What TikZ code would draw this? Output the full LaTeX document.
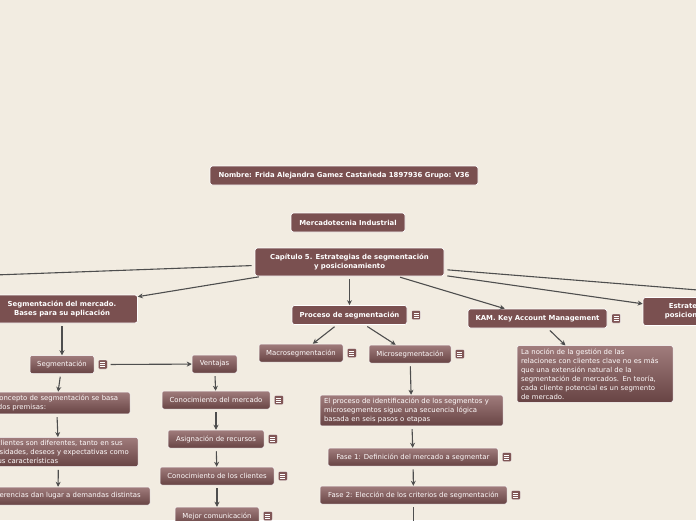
\documentclass[tikz,border=0pt]{standalone}
\usepackage{fontspec}
\setmainfont{DejaVu Sans}
\usetikzlibrary{positioning, arrows.meta}
\definecolor{paper}{RGB}{242,236,225}
\definecolor{topicfill}{RGB}{122,80,80}
\definecolor{subtop}{RGB}{160,124,124}
\definecolor{subbot}{RGB}{104,68,68}
\definecolor{iconfill}{RGB}{128,86,86}
\definecolor{wire}{RGB}{78,78,78}
\tikzset{
    x=1pt, y=-1pt, % one unit is one pixel of the map, y runs downwards
    topic/.style={draw=white, line width=0.7pt, fill=topicfill, rounded corners=2.5pt, text=white, align=center, font=\bfseries\fontsize{6.9}{9}\selectfont, minimum height=19pt, inner sep=3pt}, % main branches
    subtopic/.style={draw=white, line width=0.5pt, top color=subtop, bottom color=subbot, rounded corners=2pt, text=white!94!pink, align=left, font=\fontsize{6.9}{9}\selectfont, minimum height=18pt, inner xsep=4pt, inner ysep=3pt}, % smaller ideas
    noteicon/.style={draw=white, line width=0.4pt, fill=iconfill, rounded corners=1pt, minimum width=9pt, minimum height=9pt, inner sep=0pt,
        path picture={\foreach \h in {-2,0,2} \draw[white, line width=0.6pt] ([xshift=-2.5pt, yshift=\h pt]path picture bounding box.center) -- ++(5pt,0pt);}}, % the little note sign
    link/.style={draw=wire, line width=1.1pt, -{Stealth[length=5pt, width=5pt]}, shorten <=3pt}, % connectors
}
\begin{document}
\begin{tikzpicture}
    \useasboundingbox (0,0) rectangle (696,520);
    \fill[paper] (0,0) rectangle (696,520);
    \clip (0,0) rectangle (696,520);

    % centre of the map
    \node[topic, minimum width=268pt] (student) at (344,175.5) {Nombre: Frida Alejandra Gamez Castañeda 1897936 Grupo: V36};
    \node[topic, minimum width=114pt] (subject) at (348,222.5) {Mercadotecnia Industrial};
    \node[topic, minimum width=189pt, minimum height=28pt] (chapter) at (349.5,262) {Capítulo 5. Estrategias de segmentación\\y posicionamiento};

    % main branches
    \node[topic, minimum width=151pt, minimum height=28pt] (bases) at (62,309) {Segmentación del mercado.\\Bases para su aplicación};
    \node[topic, minimum width=115pt] (process) at (349.5,315) {Proceso de segmentación};
    \node[noteicon, right=4pt of process] (processnote) {};
    \node[topic, minimum width=139pt] (kam) at (537.5,318.5) {KAM. Key Account Management};
    \node[noteicon, right=4pt of kam] (kamicon) {};
    \node[topic, minimum width=108pt, minimum height=28pt] (strategy) at (697,311.5) {Estrategias de\\posicionamiento};
    \coordinate (offleft) at (-60,277);
    \coordinate (offright) at (760,295);

    % segmentacion del mercado
    \node[subtopic, minimum width=64pt] (segm) at (62,364.5) {Segmentación};
    \node[noteicon, right=4pt of segm] (segmnote) {};
    \node[subtopic, text width=139pt] (premise) at (56.5,403) {El concepto de segmentación se basa\\en dos premisas:};
    \node[subtopic, text width=151pt] (diff) at (58.5,452) {Los clientes son diferentes, tanto en sus\\necesidades, deseos y expectativas como\\en sus características};
    \node[subtopic, text width=176pt] (demand) at (58,496) {Estas diferencias dan lugar a demandas distintas};

    % ventajas
    \node[subtopic, minimum width=45pt] (adv) at (214.5,364) {Ventajas};
    \node[subtopic, minimum width=108pt] (know) at (216,400) {Conocimiento del mercado};
    \node[noteicon, right=4pt of know] (knownote) {};
    \node[subtopic, minimum width=96pt] (alloc) at (216,439) {Asignación de recursos};
    \node[noteicon, right=4pt of alloc] (allocnote) {};
    \node[subtopic, minimum width=114pt] (clients) at (217,476) {Conocimiento de los clientes};
    \node[noteicon, right=4pt of clients] (clientsnote) {};
    \node[subtopic, minimum width=84pt] (comm) at (217,516) {Mejor comunicación};
    \node[noteicon, right=4pt of comm] (commnote) {};

    % proceso de segmentacion
    \node[subtopic, minimum width=84pt] (macro) at (301,353) {Macrosegmentación};
    \node[noteicon, right=4pt of macro] (macronote) {};
    \node[subtopic, minimum width=82pt] (micro) at (410,354) {Microsegmentación};
    \node[noteicon, right=4pt of micro] (micronote) {};
    \node[subtopic, text width=175pt] (steps) at (411.5,410.5) {El proceso de identificación de los segmentos y\\microsegmentos sigue una secuencia lógica\\basada en seis pasos o etapas};
    \node[subtopic, minimum width=170pt] (phase1) at (413,457) {Fase 1: Definición del mercado a segmentar};
    \node[noteicon, right=4pt of phase1] (phase1note) {};
    \node[subtopic, minimum width=187pt] (phase2) at (413.5,495) {Fase 2: Elección de los criterios de segmentación};
    \node[noteicon, right=4pt of phase2] (phase2note) {};
    \coordinate (offbottom) at (413.5,540);

    % KAM
    \node[subtopic, text width=148pt] (kamtext) at (595,374) {La noción de la gestión de las\\relaciones con clientes clave no es más\\que una extensión natural de la\\segmentación de mercados. En teoría,\\cada cliente potencial es un segmento\\de mercado.};

    \draw[link]
    (chapter) edge (offleft)
    (chapter) edge (bases)
    (chapter) edge (process)
    (chapter) edge (kam)
    (chapter) edge (strategy)
    (chapter) edge (offright)
    (bases) edge (segm)
    (segmnote) edge (adv)
    (segm) edge (premise)
    (premise) edge (diff)
    (diff) edge (demand)
    (adv) edge (know)
    (know) edge (alloc)
    (alloc) edge (clients)
    (clients) edge (comm)
    (process) edge (macro)
    (process) edge (micro)
    (micro) edge (steps)
    (steps) edge (phase1)
    (phase1) edge (phase2)
    (phase2) edge (offbottom)
    (kam) edge (kamtext);
\end{tikzpicture}
\end{document}
